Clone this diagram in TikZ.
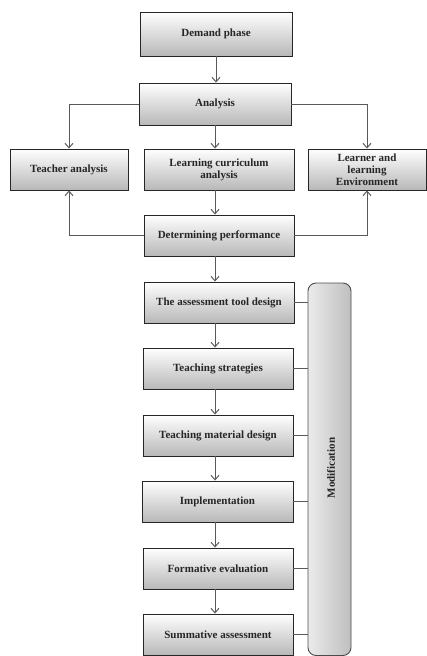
\documentclass[tikz,border=0pt]{standalone}
\usepackage{fontspec}
\setmainfont{Liberation Serif}
\usetikzlibrary{arrows.meta}
\begin{document}
\begin{tikzpicture}[
		x=1pt, y=-1pt,
		phase/.style = {draw=black!85, line width=0.9pt, top color=white, bottom color=black!28,
				minimum height=41pt, align=center, inner sep=1pt,
				font=\fontsize{11}{12}\selectfont\bfseries, text=black!85},
		link/.style = {draw=black!65, line width=1pt, -{Straight Barb[length=4.5pt,width=8pt]}},
		side/.style = {draw=black!65, line width=0.9pt},
	]
	\path[use as bounding box] (0,0) rectangle (427,656);
	\node[phase, minimum width=152pt, minimum height=44pt] (demand) at (216,34) {Demand phase};
	\node[phase, minimum width=152pt, minimum height=42pt] (analysis) at (215,104) {Analysis};
	\node[phase, minimum width=118pt] (teacher) at (69,169.5) {Teacher analysis};
	\node[phase, minimum width=150pt] (curriculum) at (219,169.5) {Learning curriculum\\analysis};
	\node[phase, minimum width=118pt] (learner) at (367,169.5) {Learner and\\learning\\Environment};
	\node[phase, minimum width=150pt] (determining) at (219,235.5) {Determining performance};
	\node[phase, minimum width=150pt] (tool) at (219,302.5) {The assessment tool design};
	\node[phase, minimum width=150pt] (strategies) at (218,368.5) {Teaching strategies};
	\node[phase, minimum width=150pt] (material) at (218,435.5) {Teaching material design};
	\node[phase, minimum width=151pt] (implement) at (217.5,501.5) {Implementation};
	\node[phase, minimum width=150pt] (formative) at (218,568.5) {Formative evaluation};
	\node[phase, minimum width=150pt] (summative) at (218,634.5) {Summative assessment};
	% modification bar
	\draw[draw=black!70, line width=0.9pt, rounded corners=8pt, left color=black!8, right color=black!25]
		(308,283) rectangle (351,655.5);
	\coordinate (modleft) at (308,283);
	\node[rotate=90, font=\fontsize{11}{12}\selectfont\bfseries, text=black!85] (modlabel) at (331,468) {Modification};
	% arrows
	\draw[link] (demand) -- (demand |- analysis.north);
	\draw[link] (analysis) -- (analysis |- curriculum.north);
	\draw[link] (analysis.west) -| (teacher.north);
	\draw[link] (analysis.east) -| (learner.north);
	\draw[link] (analysis |- curriculum.south) -- (analysis |- determining.north);
	\draw[link] (determining.west) -| (teacher.south);
	\draw[link] (determining.east) -| (learner.south);
	\foreach \from/\to in {determining/tool, tool/strategies, strategies/material,
			material/implement, implement/formative, formative/summative}
		\draw[link] (\from.south -| analysis) -- (\to.north -| analysis);
	\foreach \step in {tool, strategies, material, implement, formative, summative}
		\draw[side] (\step.east) -- (modleft |- \step.east);
\end{tikzpicture}
\end{document}
